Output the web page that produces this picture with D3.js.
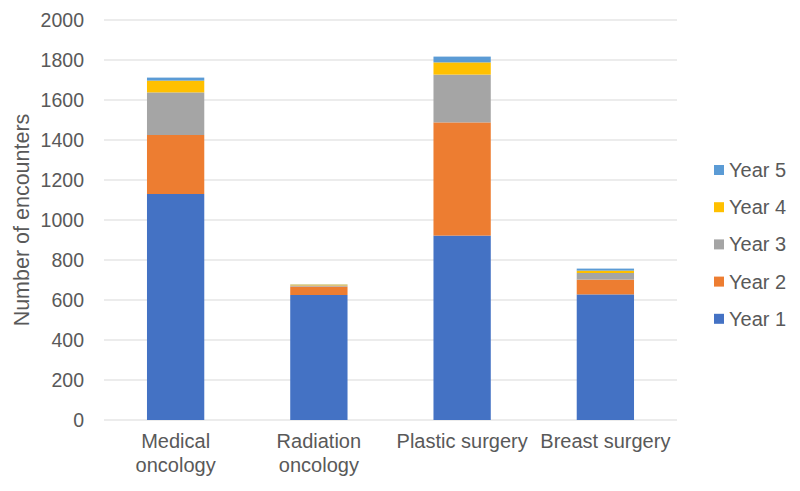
<!DOCTYPE html>
<html><head><meta charset="utf-8">
<script src="https://cdn.jsdelivr.net/npm/d3@7"></script>
<style>body{margin:0;background:#fff;} text{font-family:"Liberation Sans",Arial,sans-serif;}</style>
</head><body>
<svg id="chart" width="800" height="491"></svg>
<script>
const categories = [["Medical","oncology"],["Radiation","oncology"],["Plastic surgery"],["Breast surgery"]];
const categoryKeys = ["Medical oncology","Radiation oncology","Plastic surgery","Breast surgery"];
const seriesNames = ["Year 1","Year 2","Year 3","Year 4","Year 5"];
const year1 = [1130, 625, 922, 628];
const year2 = [295, 42, 566, 74];
const year3 = [213, 6, 239, 33];
const year4 = [59, 4, 61, 12];
const year5 = [15, 1, 29, 10];
const colors = ["#4472C4","#ED7D31","#A5A5A5","#FFC000","#5B9BD5"];
const yTicks = [0,200,400,600,800,1000,1200,1400,1600,1800,2000];

const svg = d3.select("#chart");
const m = {left:104, right:123, top:20, bottom:71};
const W = 800, H = 491;
const x = d3.scaleBand().domain(categoryKeys).range([m.left, W-m.right]).paddingInner(0.6).paddingOuter(0.3);
const y = d3.scaleLinear().domain([0,2000]).range([H-m.bottom, m.top]);

svg.append("g").selectAll("line").data(yTicks).join("line")
  .attr("x1", m.left).attr("x2", W-m.right)
  .attr("y1", d=>y(d)).attr("y2", d=>y(d))
  .attr("stroke","#d9d9d9").attr("stroke-width",1);

svg.append("g").selectAll("text").data(yTicks).join("text")
  .attr("x", 84).attr("y", d=>y(d)).attr("dy","0.35em")
  .attr("text-anchor","end").attr("font-size",19.5).attr("fill","#595959")
  .text(d=>d);

const rows = categoryKeys.map((c,i)=>({cat:c, "Year 1":year1[i], "Year 2":year2[i], "Year 3":year3[i], "Year 4":year4[i], "Year 5":year5[i]}));
const stack = d3.stack().keys(seriesNames)(rows);
svg.append("g").selectAll("g").data(stack).join("g")
  .attr("fill",(d,i)=>colors[i])
  .selectAll("rect").data(d=>d).join("rect")
  .attr("x", d=>x(d.data.cat)).attr("width", x.bandwidth())
  .attr("y", d=>y(d[1])).attr("height", d=>y(d[0])-y(d[1]));

const xl = svg.append("g");
categoryKeys.forEach((c,i)=>{
  const t = xl.append("text").attr("text-anchor","middle").attr("font-size",20).attr("fill","#595959")
    .attr("x", x(c)+x.bandwidth()/2).attr("y", 448);
  categories[i].forEach((line,j)=>{
    t.append("tspan").attr("x", x(c)+x.bandwidth()/2).attr("dy", j===0?0:24).text(line);
  });
});

svg.append("text").attr("transform","translate(29,220) rotate(-90)")
  .attr("text-anchor","middle").attr("font-size",21.5).attr("fill","#595959")
  .text("Number of encounters");

const legendOrder = seriesNames.map((s,i)=>({s,i})).reverse();
const lg = svg.append("g").selectAll("g").data(legendOrder).join("g")
  .attr("transform",(d,k)=>`translate(714,${170+k*37.2})`);
lg.append("rect").attr("x",0).attr("y",-5).attr("width",10).attr("height",10).attr("fill",d=>colors[d.i]);
lg.append("text").attr("x",15).attr("y",0).attr("dy","0.35em").attr("font-size",20).attr("fill","#595959").text(d=>d.s);
</script>
</body></html>
